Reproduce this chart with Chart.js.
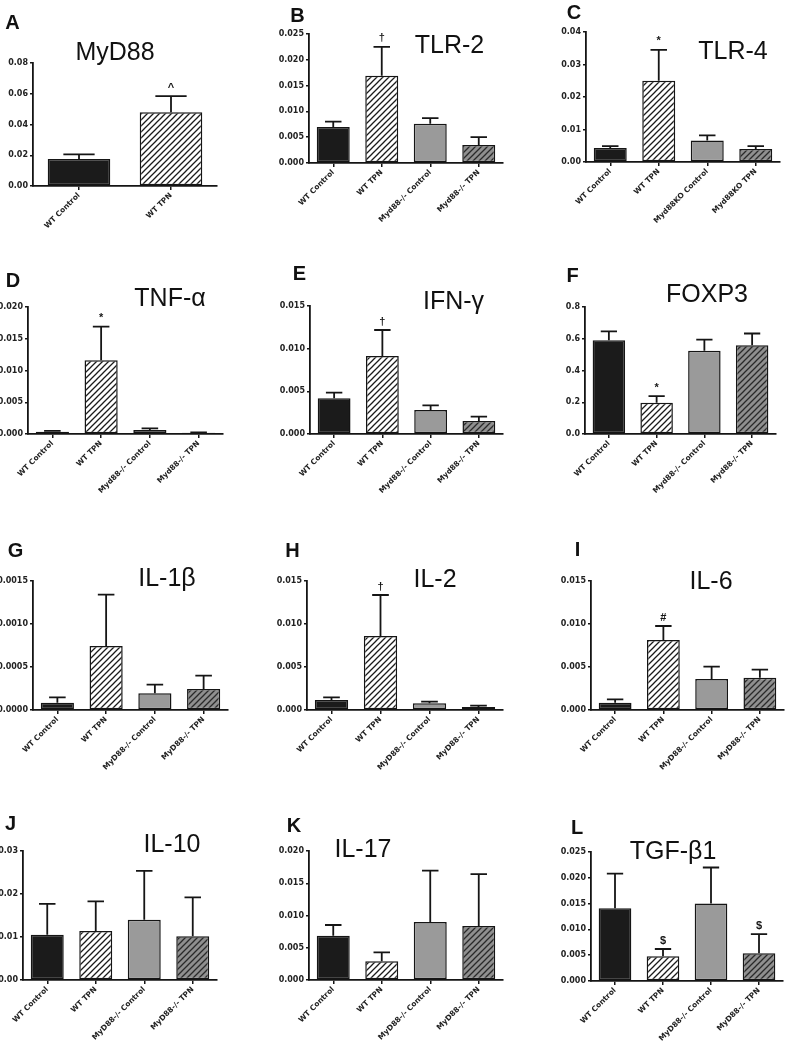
<!DOCTYPE html>
<html>
<head>
<meta charset="utf-8">
<script src="https://cdn.jsdelivr.net/npm/chart.js@4/dist/chart.umd.min.js"></script>
<style>
  html, body { margin: 0; padding: 0; background: #fff; overflow: hidden; }
  #fig { position: relative; width: 788px; height: 1050px; overflow: hidden; }
  #fig canvas { position: absolute; }
  .letter, .title { position: absolute; transform: translate(-50%, -50%); white-space: nowrap; line-height: 1; color: #111; }
  .letter { font: bold 20px "Liberation Sans", Arial, sans-serif; }
  .title { font: 25px "Liberation Sans", Arial, sans-serif; }
</style>
</head>
<body>
<div id="fig"></div>
<script>
// group labels
const groupsTwo = ['WT Control', 'WT TPN'];
const groupsMyd = ['WT Control', 'WT TPN', 'Myd88-/- Control', 'Myd88-/- TPN'];
const groupsKO = ['WT Control', 'WT TPN', 'Myd88KO Control', 'Myd88KO TPN'];
const groupsMyD = ['WT Control', 'WT TPN', 'MyD88-/- Control', 'MyD88-/- TPN'];

// A MyD88
const myd88Mean = [0.0176, 0.0480];
const myd88Sem = [0.0030, 0.0105];
const myd88Marks = ['', '^'];
const myd88Ticks = ['0.00', '0.02', '0.04', '0.06', '0.08'];

// B TLR-2
const tlr2Mean = [0.0070, 0.0169, 0.0076, 0.0035];
const tlr2Sem = [0.0010, 0.0056, 0.0011, 0.0015];
const tlr2Marks = ['', '†', '', ''];
const tlr2Ticks = ['0.000', '0.005', '0.010', '0.015', '0.020', '0.025'];

// C TLR-4
const tlr4Mean = [0.0043, 0.0250, 0.0066, 0.0040];
const tlr4Sem = [0.0006, 0.0095, 0.0016, 0.0009];
const tlr4Marks = ['', '*', '', ''];
const tlr4Ticks = ['0.00', '0.01', '0.02', '0.03', '0.04'];

// D TNF-a
const tnfMean = [0.00037, 0.0116, 0.00063, 0.00020];
const tnfSem = [0.00013, 0.0053, 0.00026, 0.00006];
const tnfMarks = ['', '*', '', ''];
const tnfTicks = ['0.000', '0.005', '0.010', '0.015', '0.020'];

// E IFN-g
const ifnMean = [0.00418, 0.00914, 0.00281, 0.00152];
const ifnSem = [0.00066, 0.00305, 0.00055, 0.00051];
const ifnMarks = ['', '†', '', ''];
const ifnTicks = ['0.000', '0.005', '0.010', '0.015'];

// F FOXP3
const foxp3Mean = [0.590, 0.197, 0.524, 0.559];
const foxp3Sem = [0.057, 0.042, 0.071, 0.074];
const foxp3Marks = ['', '*', '', ''];
const foxp3Ticks = ['0.0', '0.2', '0.4', '0.6', '0.8'];

// G IL-1b
const il1bMean = [0.000085, 0.000744, 0.000194, 0.000244];
const il1bSem = [0.000062, 0.000597, 0.000101, 0.000155];
const il1bMarks = ['', '', '', ''];
const il1bTicks = ['0.0000', '0.0005', '0.0010', '0.0015'];

// H IL-2
const il2Mean = [0.00116, 0.0086, 0.00078, 0.00035];
const il2Sem = [0.00031, 0.00477, 0.00019, 0.00015];
const il2Marks = ['', '†', '', ''];
const il2Ticks = ['0.000', '0.005', '0.010', '0.015'];

// I IL-6
const il6Mean = [0.00085, 0.00814, 0.00360, 0.00376];
const il6Sem = [0.00039, 0.00163, 0.00144, 0.00093];
const il6Marks = ['', '#', '', ''];
const il6Ticks = ['0.000', '0.005', '0.010', '0.015'];

// J IL-10
const il10Mean = [0.0105, 0.0114, 0.0140, 0.0102];
const il10Sem = [0.0072, 0.0069, 0.0114, 0.0090];
const il10Marks = ['', '', '', ''];
const il10Ticks = ['0.00', '0.01', '0.02', '0.03'];

// K IL-17
const il17Mean = [0.00687, 0.00289, 0.00899, 0.00837];
const il17Sem = [0.00166, 0.00140, 0.00796, 0.00806];
const il17Marks = ['', '', '', ''];
const il17Ticks = ['0.000', '0.005', '0.010', '0.015', '0.020'];

// L TGF-b1
const tgfMean = [0.0141, 0.0048, 0.0150, 0.0054];
const tgfSem = [0.0067, 0.0014, 0.0070, 0.0037];
const tgfMarks = ['', '$', '', '$'];
const tgfTicks = ['0.000', '0.005', '0.010', '0.015', '0.020', '0.025'];

// panel layout: box = [axisLeft, axisTop, axisRight, axisBottom]
const panels = [
  { letter: 'A', title: 'MyD88', groups: groupsTwo, mean: myd88Mean, sem: myd88Sem, marks: myd88Marks, ticks: myd88Ticks, box: [33, 63, 217, 186], titleAt: [115, 51], letterAt: [12.5, 21.5] },
  { letter: 'B', title: 'TLR-2', groups: groupsMyd, mean: tlr2Mean, sem: tlr2Sem, marks: tlr2Marks, ticks: tlr2Ticks, box: [309, 34, 503, 163], titleAt: [449.5, 43.5], letterAt: [297.5, 14.5] },
  { letter: 'C', title: 'TLR-4', groups: groupsKO, mean: tlr4Mean, sem: tlr4Sem, marks: tlr4Marks, ticks: tlr4Ticks, box: [586, 32, 780, 162], titleAt: [733, 50], letterAt: [574, 11.5] },
  { letter: 'D', title: 'TNF-α', groups: groupsMyd, mean: tnfMean, sem: tnfSem, marks: tnfMarks, ticks: tnfTicks, box: [28, 307, 223, 434], titleAt: [170, 297], letterAt: [13, 280] },
  { letter: 'E', title: 'IFN-γ', groups: groupsMyd, mean: ifnMean, sem: ifnSem, marks: ifnMarks, ticks: ifnTicks, box: [310, 306, 503, 434], titleAt: [453.5, 300], letterAt: [299.5, 273] },
  { letter: 'F', title: 'FOXP3', groups: groupsMyd, mean: foxp3Mean, sem: foxp3Sem, marks: foxp3Marks, ticks: foxp3Ticks, box: [585, 307, 776, 434], titleAt: [707, 293], letterAt: [572.5, 274.5] },
  { letter: 'G', title: 'IL-1β', groups: groupsMyD, mean: il1bMean, sem: il1bSem, marks: il1bMarks, ticks: il1bTicks, box: [33, 581, 228, 710], titleAt: [167, 577], letterAt: [15.5, 550] },
  { letter: 'H', title: 'IL-2', groups: groupsMyD, mean: il2Mean, sem: il2Sem, marks: il2Marks, ticks: il2Ticks, box: [307, 581, 503, 710], titleAt: [435, 578], letterAt: [292.5, 549.5] },
  { letter: 'I', title: 'IL-6', groups: groupsMyD, mean: il6Mean, sem: il6Sem, marks: il6Marks, ticks: il6Ticks, box: [591, 581, 784, 710], titleAt: [711, 580], letterAt: [577.5, 549] },
  { letter: 'J', title: 'IL-10', groups: groupsMyD, mean: il10Mean, sem: il10Sem, marks: il10Marks, ticks: il10Ticks, box: [23, 851, 217, 980], titleAt: [172, 843], letterAt: [10.5, 822.5] },
  { letter: 'K', title: 'IL-17', groups: groupsMyD, mean: il17Mean, sem: il17Sem, marks: il17Marks, ticks: il17Ticks, box: [309, 851, 503, 980], titleAt: [363, 848], letterAt: [294, 825] },
  { letter: 'L', title: 'TGF-β1', groups: groupsMyD, mean: tgfMean, sem: tgfSem, marks: tgfMarks, ticks: tgfTicks, box: [591, 852, 783, 981], titleAt: [673, 850], letterAt: [577, 826.5] },
];

const PAD_L = 45;
const PAD_T = 30;
const PAD_R = 3;
const PAD_B = 80;
const INK = '#151515';

function hatch(bg, fg) {
  const c = document.createElement('canvas');
  c.width = 6;
  c.height = 6;
  const g = c.getContext('2d');
  g.fillStyle = bg;
  g.fillRect(0, 0, 6, 6);
  g.strokeStyle = fg;
  g.lineWidth = 1.3;
  g.beginPath();
  g.moveTo(-1, 7); g.lineTo(7, -1);
  g.moveTo(-1, 1); g.lineTo(1, -1);
  g.moveTo(5, 7); g.lineTo(7, 5);
  g.stroke();
  return g.createPattern(c, 'repeat');
}

const fills = ['#1b1b1b', hatch('#ffffff', '#1b1b1b'), '#9a9a9a', hatch('#8f8f8f', '#2a2a2a')];

const errorBars = {
  id: 'errorBars',
  afterDatasetsDraw(chart) {
    const ds = chart.data.datasets[0];
    const meta = chart.getDatasetMeta(0);
    const yScale = chart.scales.y;
    const ctx = chart.ctx;
    ctx.save();
    meta.data.forEach((bar, i) => {
      const top = yScale.getPixelForValue(ds.data[i] + ds.sem[i]);
      const half = bar.width / 4;
      ctx.strokeStyle = INK;
      ctx.lineWidth = 1.8;
      ctx.beginPath();
      ctx.moveTo(bar.x, bar.y);
      ctx.lineTo(bar.x, top);
      ctx.moveTo(bar.x - half, top);
      ctx.lineTo(bar.x + half, top);
      ctx.stroke();
      if (ds.marks[i]) {
        ctx.fillStyle = INK;
        ctx.font = 'bold 11px "Liberation Sans", Arial, sans-serif';
        ctx.textAlign = 'center';
        ctx.textBaseline = 'bottom';
        ctx.fillText(ds.marks[i], bar.x, top - 3);
      }
    });
    ctx.restore();
  },
};

function makePanel(fig, p) {
  const [l, t, r, b] = p.box;
  const canvas = document.createElement('canvas');
  const w = r - l + PAD_L + PAD_R;
  const h = b - t + PAD_T + PAD_B;
  canvas.width = w;
  canvas.height = h;
  canvas.style.left = (l - PAD_L) + 'px';
  canvas.style.top = (t - PAD_T) + 'px';
  canvas.style.width = w + 'px';
  canvas.style.height = h + 'px';
  fig.appendChild(canvas);

  const tickValues = p.ticks.map(Number);

  new Chart(canvas, {
    type: 'bar',
    data: {
      labels: p.groups,
      datasets: [{
        data: p.mean,
        sem: p.sem,
        marks: p.marks,
        backgroundColor: fills.slice(0, p.groups.length),
        borderColor: INK,
        borderWidth: 1.5,
        borderSkipped: false,
        barPercentage: 0.68,
        categoryPercentage: 1,
      }],
    },
    options: {
      responsive: false,
      animation: false,
      devicePixelRatio: 1,
      layout: { padding: { top: PAD_T, right: PAD_R, left: 0, bottom: 0 } },
      plugins: { legend: { display: false }, tooltip: { enabled: false } },
      scales: {
        x: {
          grid: { display: true, drawOnChartArea: false, offset: false, tickLength: 4, color: INK, lineWidth: 1.5 },
          border: { color: INK, width: 1.8 },
          ticks: {
            autoSkip: false,
            minRotation: 45,
            maxRotation: 45,
            padding: 1,
            color: '#222',
            font: { family: '"DejaVu Sans", sans-serif', size: 7.5, weight: 'bold' },
          },
          afterFit(scale) {
            scale.height = PAD_B;
            scale.paddingLeft = 0;
            scale.paddingRight = 0;
          },
        },
        y: {
          min: 0,
          max: tickValues[tickValues.length - 1],
          grid: { display: true, drawOnChartArea: false, tickLength: 3, color: INK, lineWidth: 1.5 },
          border: { color: INK, width: 1.8 },
          afterBuildTicks(scale) {
            scale.ticks = tickValues.map((v) => ({ value: v }));
          },
          ticks: {
            padding: 2,
            color: '#222',
            font: { family: '"DejaVu Sans", sans-serif', size: 8, weight: 'bold' },
            callback: (value, index) => p.ticks[index],
          },
          afterFit(scale) {
            scale.width = PAD_L;
          },
        },
      },
    },
    plugins: [errorBars],
  });

  const letter = document.createElement('div');
  letter.className = 'letter';
  letter.textContent = p.letter;
  letter.style.left = p.letterAt[0] + 'px';
  letter.style.top = p.letterAt[1] + 'px';
  fig.appendChild(letter);

  const title = document.createElement('div');
  title.className = 'title';
  title.textContent = p.title;
  title.style.left = p.titleAt[0] + 'px';
  title.style.top = p.titleAt[1] + 'px';
  fig.appendChild(title);
}

const fig = document.getElementById('fig');
panels.forEach((p) => makePanel(fig, p));
</script>
</body>
</html>
